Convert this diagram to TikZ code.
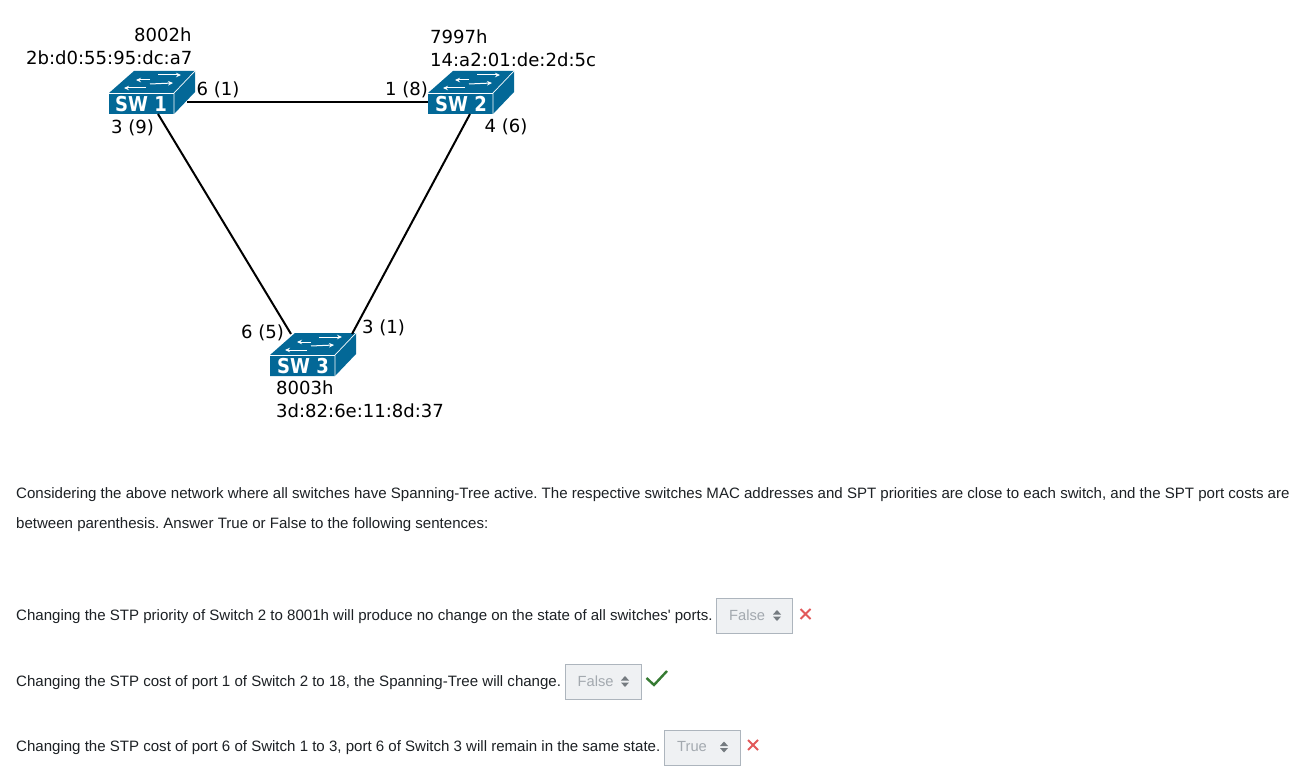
\documentclass[tikz,border=0pt]{standalone}
\usepackage{fontspec}
\setmainfont{Liberation Sans}
\newfontfamily\lblfont{DejaVu Sans}
\newfontfamily\aposfont{Liberation Sans}
\definecolor{swblue}{HTML}{036897}
\definecolor{selfill}{HTML}{EFF1F3}
\definecolor{selline}{HTML}{ADB5BD}
\definecolor{seltext}{HTML}{A3A9AF}
\definecolor{selarrow}{HTML}{757B80}
\definecolor{crossred}{HTML}{E2595A}
\definecolor{tickgreen}{HTML}{357A32}
\definecolor{bodytext}{HTML}{1D2125}
\usetikzlibrary{arrows.meta}
\tikzset{
  x=1pt,y=-1pt,
  lbl/.style={inner sep=0pt,anchor=base west,font=\lblfont\fontsize{18.05}{18}\selectfont,text=black},
  swname/.style={inner sep=0pt,anchor=base,font=\lblfont\bfseries\fontsize{20.5}{20}\selectfont,text=white},
  body/.style={inner sep=0pt,anchor=base west,font=\frenchspacing\fontsize{15.05}{15}\selectfont,text=bodytext},
  link/.style={draw=black,line width=2pt},
  selbox/.style={draw=selline,fill=selfill,line width=1pt,inner sep=0pt,minimum height=35pt,anchor=north west},
  seltxt/.style={inner sep=0pt,anchor=base west,font=\fontsize{14.7}{14.7}\selectfont,text=seltext},
  flow/.style={draw=white,line width=1pt,-{Stealth[length=5pt,width=4.5pt]}}
}
\newcommand{\swdraw}[2]{% x y
  \begin{scope}[shift={(#1,#2)}]
    \fill[swblue] (0,0) -- (25,-22) -- (86,-22) -- (86,-1) -- (65,21) -- (0,21) -- cycle;
    \draw[white,line width=.7pt] (65,21) -- (65,0) -- (86,-22);
    \draw[white,line width=.7pt] (0,0) -- (65,0);
    \draw[flow] (41,-13) -- (27,-13);
    \draw[flow] (49,-18) -- (72,-18);
    \draw[flow] (37,-5) -- (15,-5);
    \draw[flow] (41,-9) -- (64,-10);
  \end{scope}
}
\newcommand{\updown}[2]{%
  \fill[selarrow] (#1-4,#2-1) -- (#1+4,#2-1) -- (#1,#2-5.5) -- cycle;
  \fill[selarrow] (#1-4,#2+1) -- (#1+4,#2+1) -- (#1,#2+5.5) -- cycle;
}
\newcommand{\crossmark}[2]{%
  \draw[crossred,line width=1.8pt] (#1-5,#2-5) -- (#1+5,#2+5) (#1-5,#2+5) -- (#1+5,#2-5);
}
\newcommand{\swlabel}[1]{\scalebox{0.88}[1]{#1}}
\begin{document}
\begin{tikzpicture}
\useasboundingbox (0,0) rectangle (1302,770);
\fill[white] (0,0) rectangle (1302,770);
% switches
\swdraw{109}{93}
\swdraw{428}{93}
\swdraw{270}{355}
\node[swname] (sw1) at (141,111.3) {\swlabel{SW 1}};
\node[swname] (sw2) at (461,111.3) {\swlabel{SW 2}};
\node[swname] (sw3) at (303,373.3) {\swlabel{SW 3}};
% connector ends on the switch outlines
\coordinate (p16) at (187,102);
\coordinate (p21) at (428,102);
\coordinate (p13) at (158,114);
\coordinate (p36) at (291,334);
\coordinate (p24) at (470,114);
\coordinate (p33) at (352,334);
\draw[link] (p16) -- (p21);
\draw[link] (p13) -- (p36);
\draw[link] (p24) -- (p33);
% labels
\node[lbl] (a1) at (134,42) {8002h};
\node[lbl] (a2) at (26,65) {2b:d0:55:95:dc:a7};
\node[lbl] (b1) at (430,44) {7997h};
\node[lbl] (b2) at (430,67) {14:a2:01:de:2d:5c};
\node[lbl] (c1) at (276,394) {8003h};
\node[lbl] (c2) at (276,417.5) {3d:82:6e:11:8d:37};
\node[lbl] (l1) at (196.5,96) {6 (1)};
\node[lbl] (l2) at (385,96) {1 (8)};
\node[lbl] (l3) at (111,134) {3 (9)};
\node[lbl] (l4) at (484.5,133) {4 (6)};
\node[lbl] (l5) at (241,338) {6 (5)};
\node[lbl] (l6) at (362,334) {3 (1)};
% text
\node[body] (t1) at (16,498) {Considering the above network where all switches have Spanning-Tree active. The respective switches MAC addresses and SPT priorities are close to each switch, and the SPT port costs are};
\node[body] (t2) at (16,528) {between parenthesis. Answer True or False to the following sentences:};
\node[body] (q1) at (16,620) {Changing the STP priority of Switch 2 to 8001h will produce no change on the state of all switches{\aposfont'} ports.};
\node[body] (q2) at (16,686) {Changing the STP cost of port 1 of Switch 2 to 18, the Spanning-Tree will change.};
\node[body] (q3) at (16,751) {Changing the STP cost of port 6 of Switch 1 to 3, port 6 of Switch 3 will remain in the same state.};
% selects
\node[selbox,minimum width=76pt] (s1) at (716,598) {};
\node[seltxt] (s1t) at (729,620) {False};
\updown{777}{615.5}
\crossmark{805.5}{614}
\node[selbox,minimum width=76pt] (s2) at (565,664) {};
\node[seltxt] (s2t) at (577.5,686) {False};
\updown{625}{681.5}
\draw[tickgreen,line width=2.4pt] (646.5,678) -- (654,685) -- (667,671);
\node[selbox,minimum width=76pt] (s3) at (664,730) {};
\node[seltxt] (s3t) at (677,751) {True};
\updown{724}{747}
\crossmark{753}{745}
\end{tikzpicture}
\end{document}
